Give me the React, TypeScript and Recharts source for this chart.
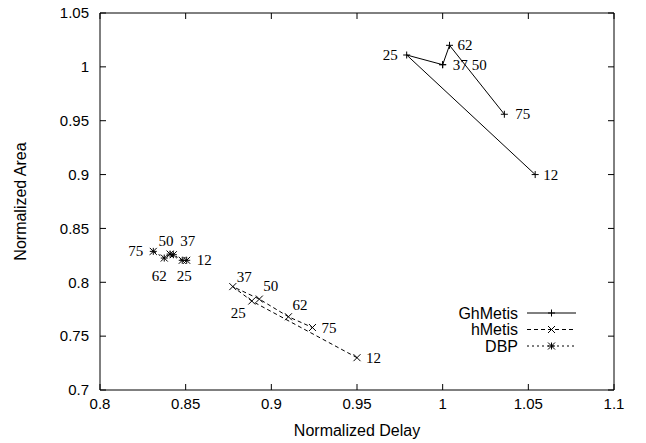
import { ScatterChart, Scatter, XAxis, YAxis, ReferenceLine } from 'recharts'

// point labels (same order in every series)
const pointLabels = ['12', '25', '37', '50', '62', '75']

const ghMetisDelay = [1.054, 0.979, 1.0, 1.0, 1.004, 1.036]
const ghMetisArea = [0.9, 1.011, 1.002, 1.002, 1.02, 0.956]

const hMetisDelay = [0.95, 0.8886, 0.8775, 0.893, 0.91, 0.924]
const hMetisArea = [0.73, 0.7826, 0.796, 0.7844, 0.768, 0.758]

const dbpDelay = [0.8506, 0.848, 0.8428, 0.8409, 0.8375, 0.8311]
const dbpArea = [0.8204, 0.8204, 0.8256, 0.8262, 0.8225, 0.8287]

const xTicks = [0.8, 0.85, 0.9, 0.95, 1, 1.05, 1.1]
const yTicks = [0.7, 0.75, 0.8, 0.85, 0.9, 0.95, 1, 1.05]

const xMin = xTicks[0]
const xMax = xTicks[xTicks.length - 1]
const yMin = yTicks[0]
const yMax = yTicks[yTicks.length - 1]

const sans = '"Liberation Sans", Arial, Helvetica, sans-serif'
const serif = '"Liberation Serif", "Times New Roman", serif'

type Pt = { x: number; y: number; label: string }
type Kind = 'plus' | 'cross' | 'star'
type Place = { dx: number; dy: number; anchor: 'start' | 'middle' | 'end' }

const toPoints = (xs: number[], ys: number[]): Pt[] =>
  xs.map((x, i) => ({ x, y: ys[i], label: pointLabels[i] }))

// where each point's number sits relative to its marker
const ghPlace: Record<string, Place> = {
  '12': { dx: 8, dy: 0, anchor: 'start' },
  '25': { dx: -9, dy: 0, anchor: 'end' },
  '37': { dx: 10, dy: 0, anchor: 'start' },
  '50': { dx: 29, dy: 0, anchor: 'start' },
  '62': { dx: 8, dy: 0, anchor: 'start' },
  '75': { dx: 11, dy: 0, anchor: 'start' },
}
const hPlace: Record<string, Place> = {
  '12': { dx: 9, dy: 0, anchor: 'start' },
  '25': { dx: -6, dy: 12, anchor: 'end' },
  '37': { dx: 4, dy: -10, anchor: 'start' },
  '50': { dx: 4, dy: -13, anchor: 'start' },
  '62': { dx: 4, dy: -12, anchor: 'start' },
  '75': { dx: 9, dy: 0, anchor: 'start' },
}
const dbpPlace: Record<string, Place> = {
  '12': { dx: 10, dy: 0, anchor: 'start' },
  '25': { dx: 2, dy: 16, anchor: 'middle' },
  '37': { dx: 7, dy: -14, anchor: 'start' },
  '50': { dx: -4, dy: -13, anchor: 'middle' },
  '62': { dx: -5, dy: 18, anchor: 'middle' },
  '75': { dx: -10, dy: 0, anchor: 'end' },
}

const series = [
  { name: 'GhMetis', data: toPoints(ghMetisDelay, ghMetisArea), kind: 'plus' as Kind, dash: undefined, place: ghPlace },
  { name: 'hMetis', data: toPoints(hMetisDelay, hMetisArea), kind: 'cross' as Kind, dash: '4 3', place: hPlace },
  { name: 'DBP', data: toPoints(dbpDelay, dbpArea), kind: 'star' as Kind, dash: '2 3', place: dbpPlace },
]

// inward tick stubs on all four sides of the plot box
const frameTicks = [
  ...xTicks.map((x) => ({ x, y: yMin, dir: 'up' })),
  ...xTicks.map((x) => ({ x, y: yMax, dir: 'down' })),
  ...yTicks.map((y) => ({ x: xMin, y, dir: 'right' })),
  ...yTicks.map((y) => ({ x: xMax, y, dir: 'left' })),
]

function markerPath(kind: Kind, cx: number, cy: number) {
  const r = 3.5
  const plus = `M${cx - r},${cy}H${cx + r}M${cx},${cy - r}V${cy + r}`
  const cross = `M${cx - r},${cy - r}L${cx + r},${cy + r}M${cx - r},${cy + r}L${cx + r},${cy - r}`
  if (kind === 'plus') return plus
  if (kind === 'cross') return cross
  return plus + cross
}

function PointMark(props: any) {
  const { cx, cy, payload, kind, place } = props
  if (cx == null || cy == null) return <g />
  const p: Place = place[payload.label]
  return (
    <g>
      <path d={markerPath(kind, cx, cy)} stroke="#000" strokeWidth={1} fill="none" />
      <text
        x={cx + p.dx}
        y={cy + p.dy}
        textAnchor={p.anchor}
        dominantBaseline="central"
        fontFamily={serif}
        fontSize={15}
        fill="#000"
      >
        {payload.label}
      </text>
    </g>
  )
}

const TICK = 6
function TickStub(props: any) {
  const { cx, cy, payload } = props
  if (cx == null || cy == null) return <g />
  const d = payload.dir
  const dx = d === 'right' ? TICK : d === 'left' ? -TICK : 0
  const dy = d === 'down' ? TICK : d === 'up' ? -TICK : 0
  return (
    <g>
      <path d={`M${cx},${cy}L${cx + dx},${cy + dy}`} stroke="#000" strokeWidth={1} fill="none" />
    </g>
  )
}

// key box in the lower right of the plot
function KeyBox() {
  return (
    <svg width={180} height={56} style={{ position: 'absolute', left: 430, top: 303 }}>
      {series.map((s, i) => {
        const y = 10 + i * 16.5
        return (
          <g key={s.name}>
            <text x={88} y={y} textAnchor="end" dominantBaseline="central" fontFamily={sans} fontSize={16} fill="#000">
              {s.name}
            </text>
            <line x1={97} x2={146} y1={y} y2={y} stroke="#000" strokeWidth={1} strokeDasharray={s.dash} />
            <path d={markerPath(s.kind, 121.5, y)} stroke="#000" strokeWidth={1} fill="none" />
          </g>
        )
      })}
    </svg>
  )
}

function YTitle(props: any) {
  const vb = props.viewBox || { x: 0, y: 13, width: 100, height: 377 }
  const cx = vb.x + 20
  const cy = vb.y + vb.height / 2
  return (
    <text
      x={cx}
      y={cy}
      transform={`rotate(-90 ${cx} ${cy})`}
      textAnchor="middle"
      dominantBaseline="central"
      fontFamily={sans}
      fontSize={16}
      fill="#000"
    >
      Normalized Area
    </text>
  )
}

const tickStyle = { fill: '#000', fontSize: 15, fontFamily: sans }

export default function App() {
  return (
    <div style={{ position: 'absolute', left: 0, top: 0, width: 646, height: 443, background: '#fff' }}>
      <ScatterChart width={646} height={443} margin={{ top: 13, right: 32, left: 0, bottom: 0 }}>
        <XAxis
          type="number"
          dataKey="x"
          domain={[xMin, xMax]}
          ticks={xTicks}
          height={53}
          stroke="#000"
          tickLine={false}
          tick={tickStyle}
          tickMargin={2}
          label={{ value: 'Normalized Delay', position: 'insideBottom', offset: 7, fill: '#000', fontSize: 16, fontFamily: sans }}
        />
        <YAxis
          type="number"
          dataKey="y"
          domain={[yMin, yMax]}
          ticks={yTicks}
          width={100}
          stroke="#000"
          tickLine={false}
          tick={tickStyle}
          tickMargin={5}
          label={{ content: YTitle }}
        />
        <Scatter data={frameTicks} shape={(p: any) => <TickStub {...p} />} isAnimationActive={false} />
        {series.map((s) => (
          <Scatter
            key={s.name}
            name={s.name}
            data={s.data}
            line={{ stroke: '#000', strokeWidth: 1, strokeDasharray: s.dash }}
            lineType="joint"
            shape={(p: any) => <PointMark {...p} kind={s.kind} place={s.place} />}
            isAnimationActive={false}
          />
        ))}
        <ReferenceLine y={yMax} stroke="#000" ifOverflow="visible" />
        <ReferenceLine x={xMax} stroke="#000" ifOverflow="visible" />
      </ScatterChart>
      <KeyBox />
    </div>
  )
}
